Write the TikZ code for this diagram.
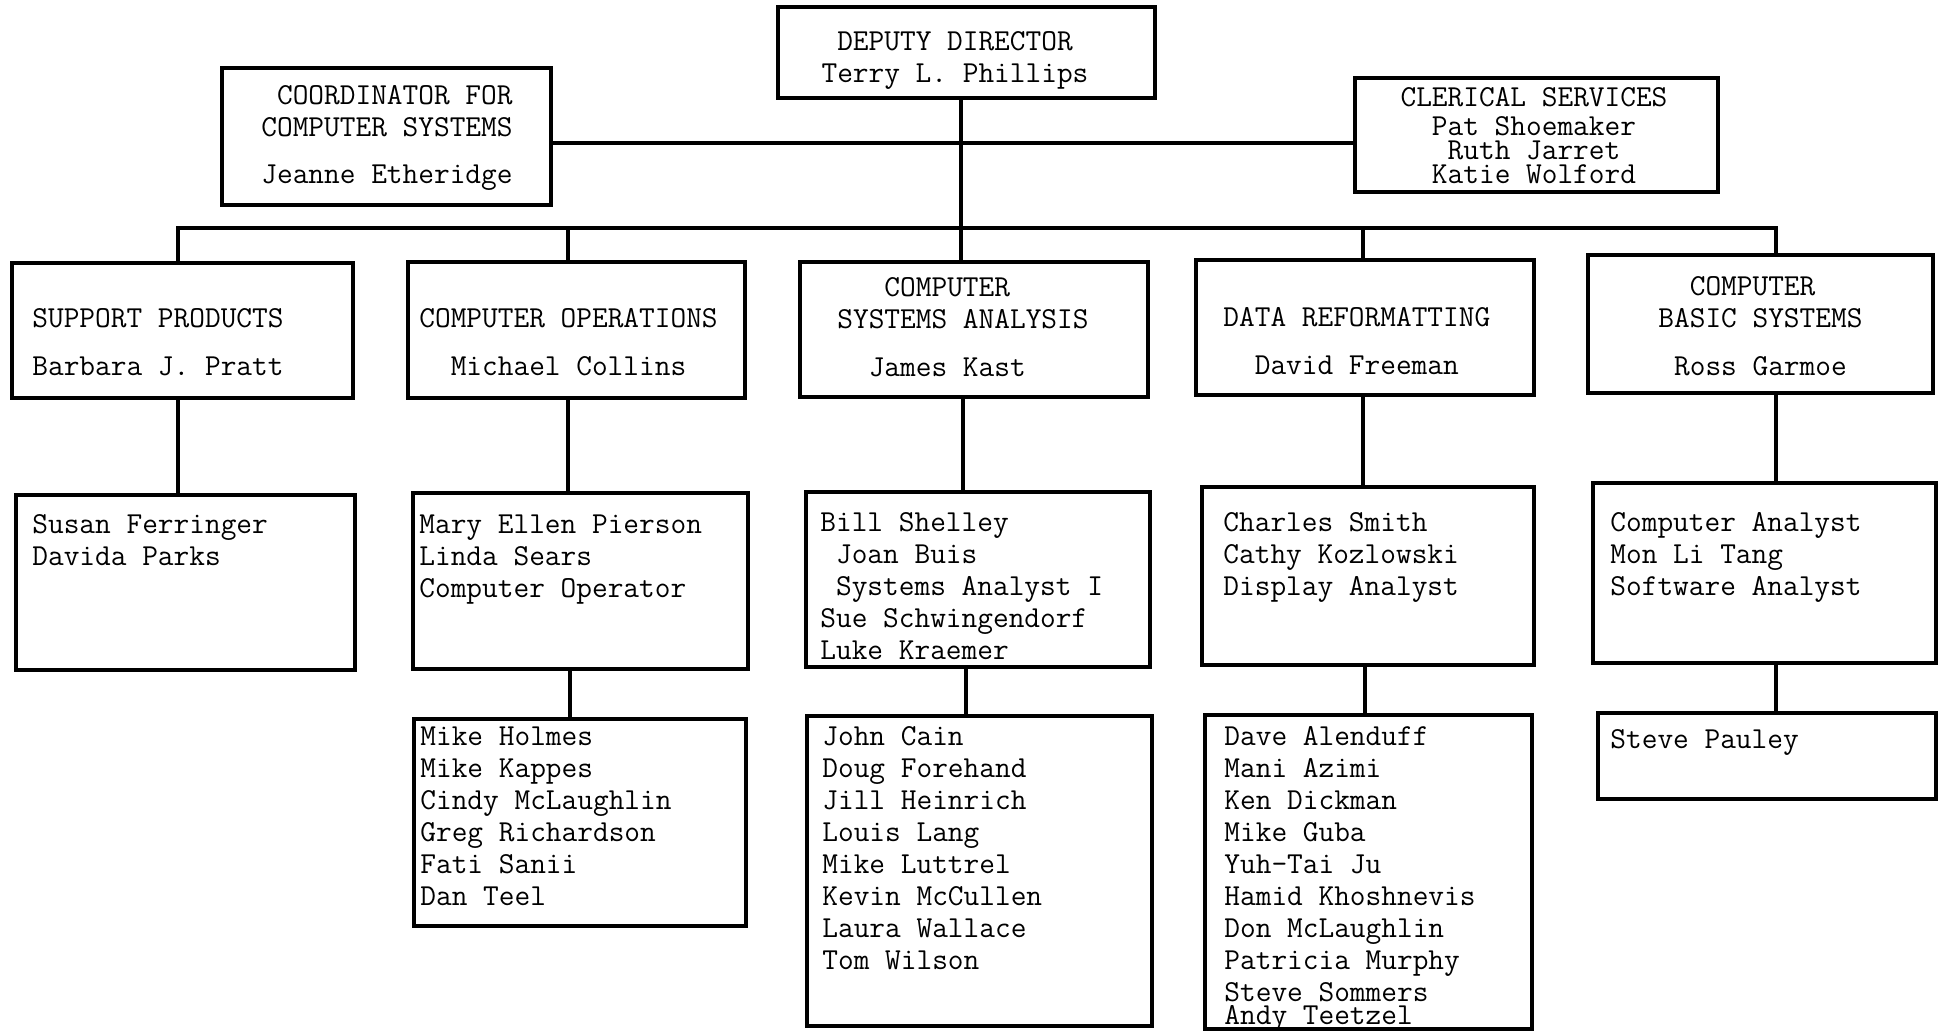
\documentclass[tikz,border=0pt]{standalone}
\usepackage{fontspec}
\usetikzlibrary{fit}
\begin{document}
\begin{tikzpicture}[x=0.5pt,y=-0.5pt,
  unit/.style={draw,line width=2.4pt,inner sep=0pt},
  link/.style={line width=2pt},
  txt/.style={inner sep=0pt,align=left,anchor=north west,font=\ttfamily\fontsize{15.24}{16}\selectfont},
  ctxt/.style={txt,align=center,anchor=north}]
\useasboundingbox (0,0) rectangle (1940,1032);
% top row
\node[unit,fit={(778,7) (1155,98)}] (dep) {};
\node[unit,fit={(222,68) (551,205)}] (coord) {};
\node[unit,fit={(1355,78) (1718,192)}] (cler) {};
% departments
\node[unit,fit={(12,263) (353,398)}] (sp) {};
\node[unit,fit={(408,262) (745,398)}] (co) {};
\node[unit,fit={(800,262) (1148,397)}] (csa) {};
\node[unit,fit={(1196,260) (1534,395)}] (dr) {};
\node[unit,fit={(1588,255) (1933,393)}] (cbs) {};
% staff
\node[unit,fit={(16,495) (355,670)}] (spstaff) {};
\node[unit,fit={(413,493) (748,669)}] (costaff) {};
\node[unit,fit={(806,492) (1150,667)}] (csastaff) {};
\node[unit,fit={(1202,487) (1534,665)}] (drstaff) {};
\node[unit,fit={(1593,483) (1936,663)}] (cbsstaff) {};
\node[unit,fit={(414,719) (746,926)}] (ops) {};
\node[unit,fit={(807,716) (1152,1026)}] (prog) {};
\node[unit,fit={(1205,715) (1532,1029)}] (refm) {};
\node[unit,fit={(1598,713) (1936,799)}] (basic) {};

\node[ctxt] (deptxt) at (955,31) {DEPUTY DIRECTOR\\Terry L. Phillips};
\node[txt] (coordtxt) at (261,85) {\phantom{x}COORDINATOR FOR\\COMPUTER SYSTEMS\\[7.5pt]Jeanne Etheridge};
\node[ctxt] (clertxt) at (1534,87) {CLERICAL SERVICES\\[-1.5pt]Pat Shoemaker\\[-4pt]Ruth Jarret\\[-4pt]Katie Wolford};

\node[txt] (sptxt) at (32,308) {SUPPORT PRODUCTS\\[8pt]Barbara J. Pratt};
\node[txt] (cotxt) at (419,308) {COMPUTER OPERATIONS\\[8pt]\phantom{xx}Michael Collins};
\node[txt] (csatxt) at (837,277) {\phantom{xxx}COMPUTER\\SYSTEMS ANALYSIS\\[8pt]\phantom{xx}James Kast};
\node[txt] (drtxt) at (1223,307) {DATA REFORMATTING\\[8pt]\phantom{xx}David Freeman};
\node[txt] (cbstxt) at (1658,276) {\phantom{xx}COMPUTER\\BASIC SYSTEMS\\[8pt]\phantom{x}Ross Garmoe};

\node[txt] (spnames) at (32,514) {Susan Ferringer\\Davida Parks};
\node[txt] (conames) at (419,514) {Mary Ellen Pierson\\Linda Sears\\Computer Operator};
\node[txt] (csanames) at (820,512) {Bill Shelley\\\phantom{x}Joan Buis\\\phantom{x}Systems Analyst I\\Sue Schwingendorf\\Luke Kraemer};
\node[txt] (drnames) at (1223,512) {Charles Smith\\Cathy Kozlowski\\Display Analyst};
\node[txt] (cbsnames) at (1610,512) {Computer Analyst\\Mon Li Tang\\Software Analyst};

\node[txt] (opsnames) at (420,726) {Mike Holmes\\Mike Kappes\\Cindy McLaughlin\\Greg Richardson\\Fati Sanii\\Dan Teel};
\node[txt] (prognames) at (822,726) {John Cain\\Doug Forehand\\Jill Heinrich\\Louis Lang\\Mike Luttrel\\Kevin McCullen\\Laura Wallace\\Tom Wilson};
\node[txt] (refmnames) at (1224,726) {Dave Alenduff\\Mani Azimi\\Ken Dickman\\Mike Guba\\Yuh-Tai Ju\\Hamid Khoshnevis\\Don McLaughlin\\Patricia Murphy\\Steve Sommers\\[-4.5pt]Andy Teetzel};
\node[txt] (basicnames) at (1610,729) {Steve Pauley};

% connectors
\coordinate (bus) at (961,228);
\draw[link] (dep.south -| bus) -- (csa.north -| bus);
\draw[link] (coord.east |- 0,143) -- (cler.west |- 0,143);
\draw[link] (sp.north -| 178,0) |- (bus) -| (cbs.north -| 1776,0);
\draw[link] (co.north -| 568,0) -- (bus -| 568,0);
\draw[link] (dr.north -| 1363,0) -- (bus -| 1363,0);
\draw[link] (sp.south -| 178,0) -- (spstaff.north -| 178,0);
\draw[link] (co.south -| 568,0) -- (costaff.north -| 568,0);
\draw[link] (csa.south -| 963,0) -- (csastaff.north -| 963,0);
\draw[link] (dr.south -| 1363,0) -- (drstaff.north -| 1363,0);
\draw[link] (cbs.south -| 1776,0) -- (cbsstaff.north -| 1776,0);
\draw[link] (costaff.south -| 570,0) -- (ops.north -| 570,0);
\draw[link] (csastaff.south -| 966,0) -- (prog.north -| 966,0);
\draw[link] (drstaff.south -| 1365,0) -- (refm.north -| 1365,0);
\draw[link] (cbsstaff.south -| 1776,0) -- (basic.north -| 1776,0);
\end{tikzpicture}
\end{document}
